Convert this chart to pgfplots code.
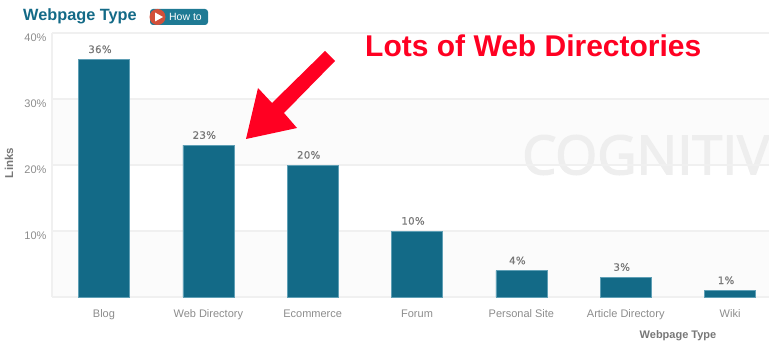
\documentclass[border=0pt]{standalone}
\usepackage{pgfplots}
\pgfplotsset{compat=1.18}
\usepackage{pgfplotstable}
\usepackage{fontspec}
\setmainfont{Liberation Sans}
\newfontfamily\dejavu[FakeBold=0.35,LetterSpace=3]{DejaVu Sans}
\newfontfamily\wm[FakeBold=2.5]{Open Sans}
\definecolor{teal1}{HTML}{136A87}
\definecolor{edge1}{HTML}{5F9FB5}
\definecolor{gridc}{HTML}{F0F0F0}
\definecolor{bandc}{HTML}{FBFBFB}
\definecolor{tickc}{HTML}{8C8C8C}
\definecolor{labc}{HTML}{777777}
\definecolor{arrowred}{HTML}{FF0022}
\definecolor{wmc}{HTML}{EEEEEE}
\definecolor{btn}{HTML}{1F7A94}
\definecolor{btnred}{HTML}{D2503A}
\pgfplotstableread{
x y lab
0 36 36
1 23 23
2 20 20
3 10 10
4 4 4
5 3 3
6 1 1
}\datatable
\newcommand{\fs}[1]{\fontsize{#1}{#1}\selectfont}
\begin{document}
\begin{tikzpicture}[x=1pt,y=1pt]
\useasboundingbox (0,0) rectangle (769,362);
\begin{scope}
\clip (0,0) rectangle (769,362);
% alternating bands
\fill[bandc] (52,65) rectangle (769,131);
\fill[bandc] (52,197) rectangle (769,263);
% watermark
\node[anchor=west,inner sep=0pt,text=wmc] at (522,207) {\wm\fs{54}COGNITIV};
\begin{axis}[
  at={(52pt,65pt)},anchor=south west,
  scale only axis,width=717pt,height=264pt,
  xmin=-0.498,xmax=6.373,ymin=0,ymax=40,
  axis lines=left,axis line style={gridc,line width=2pt,-},
  ymajorgrids,grid style={gridc,line width=2pt},
  xtick=data,
  xticklabels={Blog,Web Directory,Ecommerce,Forum,Personal Site,Article Directory,Wiki},
  ytick={10,20,30,40},
  yticklabel={\pgfmathprintnumber{\tick}\%},
  /pgf/number format/assume math mode=true,
  major tick length=0pt,
  tick label style={text=tickc,font=\fs{11}},
  yticklabel style={yshift=-4.5pt,xshift=-2pt},
  xticklabel style={yshift=-9pt},
  clip=true,
]
\addplot[ybar,bar width=51pt,fill=teal1,draw=edge1,line width=0.5pt,
  point meta=explicit,
  nodes near coords={\pgfmathprintnumber{\pgfplotspointmeta}\%},
  nodes near coords style={text=labc,font=\dejavu\fs{10.2},xshift=-4pt,yshift=3pt,anchor=south,inner sep=3pt},
] table[x=x,y=y,meta=lab] {\datatable};
\end{axis}
\end{scope}
% axis titles
\node[text=labc,font=\bfseries\fs{11}] at (678,26) {Webpage Type};
\node[text=labc,font=\bfseries\fs{11.5},rotate=90] at (9,199) {Links};
% title and button
\node[anchor=west,inner sep=0pt,text=teal1,font=\bfseries\fs{16.3}] at (23,346) {Webpage Type};
\fill[btn,rounded corners=3pt] (150,337) rectangle (208,353);
\fill[btnred] (157.5,345) circle (8);
\fill[white] (155,349.5) -- (163,345) -- (155,340.5) -- cycle;
\node[text=white,font=\fs{10.5}] at (185.5,345) {How to};
% annotation
\node[anchor=west,inner sep=0pt,text=arrowred,font=\bfseries\fs{30}] at (365,316) {Lots of Web Directories};
\fill[arrowred] (325,311) -- (335,301) -- (284,249) -- (297,234) -- (246,223) -- (258,274) -- (272,259) -- cycle;
\end{tikzpicture}
\end{document}
